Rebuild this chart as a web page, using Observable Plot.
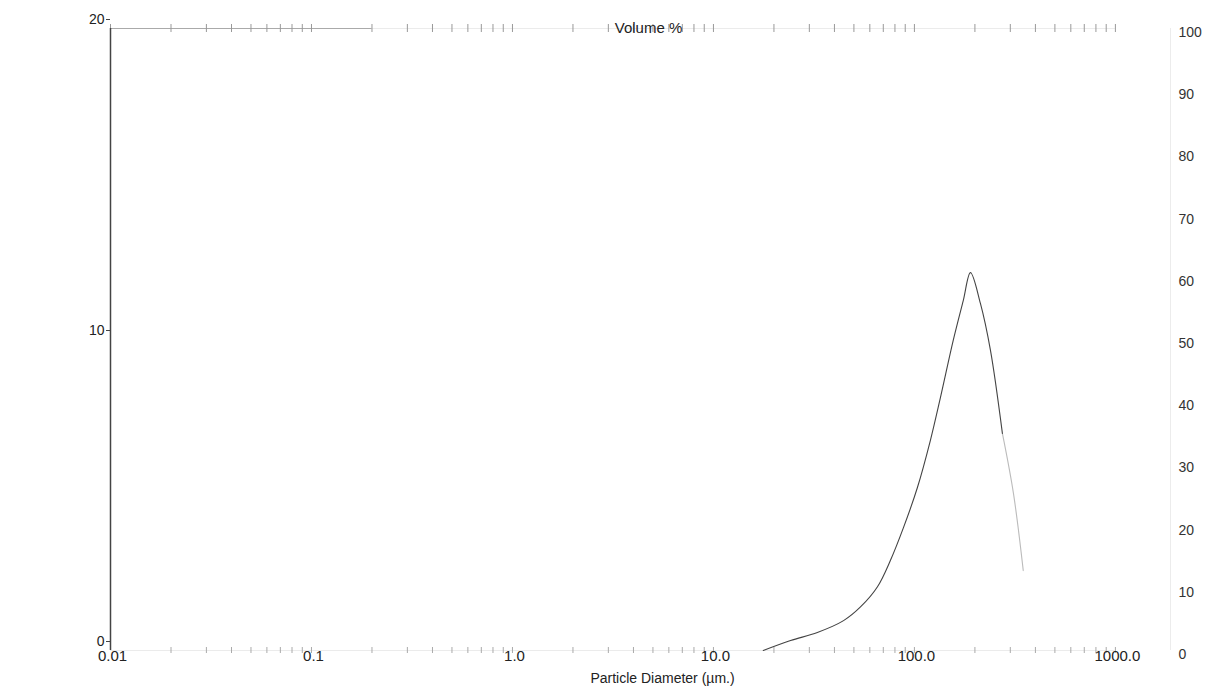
<!DOCTYPE html>
<html>
<head>
<meta charset="utf-8">
<script src="https://cdn.jsdelivr.net/npm/d3@7"></script>
<script src="https://cdn.jsdelivr.net/npm/@observablehq/plot@0.6"></script>
<style>
  html, body { margin: 0; padding: 0; background: #fff; }
  #chart { width: 1216px; height: 697px; }
</style>
</head>
<body>
<div id="chart"></div>
<script>
// ---- data ----
const diameters = [17.7, 24.2, 32.9, 44.4, 53.9, 65.5, 76, 88.2, 103.5, 120, 134.7, 156, 175, 190, 213, 239, 274];
const volumes   = [0, 0.32, 0.58, 0.96, 1.4, 2.05, 2.9, 3.95, 5.24, 6.75, 8.13, 9.97, 11.25, 12.15, 11.16, 9.65, 6.98];
const tailDiameters = [274, 311, 348];
const tailVolumes   = [6.98, 5.05, 2.57];

const xTickValues = [0.01, 0.1, 1, 10, 100, 1000];
const xTickLabels = ["0.01", "0.1", "1.0", "10.0", "100.0", "1000.0"];
const leftTicks = [0, 10, 20];
const rightTicks = [0, 10, 20, 30, 40, 50, 60, 70, 80, 90, 100];
const decades = [0.01, 0.1, 1, 10, 100, 1000];
const multipliers = [1, 2, 3, 4, 5, 6, 7, 8, 9];
const title = "Volume %";
const xLabel = "Particle Diameter (µm.)";

// ---- derived tables ----
const mainCurve = diameters.map((d, i) => ({d, v: volumes[i]}));
const tailCurve = tailDiameters.map((d, i) => ({d, v: tailVolumes[i]}));
const minorTicks = decades.flatMap(dec => multipliers.map(m => dec * m)).filter(v => v <= 1000);
const xMin = 0.01, xMax = 1880;
const yMax = 20, rightMax = 100;

const chart = Plot.plot({
  width: 1216,
  height: 697,
  marginLeft: 110,
  marginRight: 46,
  marginTop: 28,
  marginBottom: 47,
  style: {fontFamily: "'Liberation Sans', Arial, sans-serif", fontSize: "15px", color: "#222", background: "#fff"},
  x: {type: "log", domain: [xMin, xMax], axis: null},
  y: {domain: [0, yMax], axis: null},
  marks: [
    // faint frame lines top and bottom
    Plot.ruleY([yMax, 0], {x1: xMin, x2: 1000, stroke: "#e6e6e6", strokeWidth: 0.8}),
    Plot.ruleY([yMax], {x1: xMin, x2: 0.2, stroke: "#999", strokeWidth: 0.8}),
    // minor log ticks along top and bottom
    Plot.ruleX(minorTicks, {x: d => d, y1: yMax, y2: yMax, insetTop: -4, insetBottom: -4, stroke: "#999", strokeWidth: 1}),
    Plot.ruleX(minorTicks.filter(v => v > 0.01), {x: d => d, y1: 0, y2: 0, insetTop: -3, insetBottom: -3, stroke: "#aaa", strokeWidth: 1}),
    // faint right axis
    Plot.ruleX([xMax], {stroke: "#ececec", strokeWidth: 1}),
    // left axis
    Plot.ruleX([xMin], {stroke: "#444", strokeWidth: 1.5}),
    Plot.axisY(leftTicks, {anchor: "left", label: null, tickSize: 4, tickPadding: 2, dy: -9, fontSize: 14, stroke: "#444", fill: "#222"}),
    // right axis labels (0-100 scale)
    Plot.text(rightTicks, {y: d => d * yMax / rightMax, frameAnchor: "right", text: d => String(d), textAnchor: "start", dx: 8, dy: 4, fontSize: 14, fill: "#333"}),
    // x tick labels
    Plot.text(xTickValues, {x: d => d, frameAnchor: "bottom", text: (d, i) => xTickLabels[i], lineAnchor: "middle", dx: 2, dy: 6, fontSize: 15, fill: "#222"}),
    // axis label and title
    Plot.text([xLabel], {frameAnchor: "bottom", text: d => d, dx: 22, dy: 32, fontSize: 14, fill: "#222"}),
    Plot.text([title], {frameAnchor: "top", text: d => d, dx: 8, dy: -6, fontSize: 15, fill: "#222"}),
    // distribution curve
    Plot.line(tailCurve, {x: "d", y: "v", stroke: "#bbb", strokeWidth: 1.1, curve: "catmull-rom"}),
    Plot.line(mainCurve, {x: "d", y: "v", stroke: "#444", strokeWidth: 1.1, curve: "catmull-rom"})
  ]
});
document.getElementById("chart").appendChild(chart);
</script>
</body>
</html>
